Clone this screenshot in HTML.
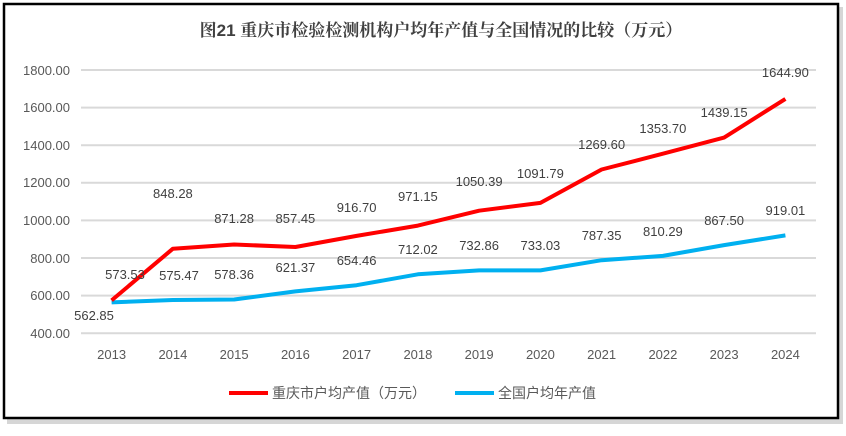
<!DOCTYPE html>
<html><head><meta charset="utf-8"><style>
body{margin:0;background:#fff;}
</style></head><body>
<svg width="846" height="431" xmlns="http://www.w3.org/2000/svg" font-family="Liberation Sans, Noto Sans CJK SC, sans-serif">
<rect x="7" y="7" width="836" height="417" fill="#bbb" opacity="0.6"/>
<rect x="4" y="4" width="834" height="414" fill="#fff" stroke="#000" stroke-width="2.5"/>
<text x="441" y="36" text-anchor="middle" font-size="17" font-weight="bold" fill="#404040" font-family="Liberation Sans, Noto Serif CJK SC, serif">图21  重庆市检验检测机构户均年产值与全国情况的比较（万元）</text>
<g stroke="#d9d9d9" stroke-width="2">
<line x1="81" x2="816" y1="70" y2="70"/><line x1="81" x2="816" y1="107.6" y2="107.6"/>
<line x1="81" x2="816" y1="145.2" y2="145.2"/><line x1="81" x2="816" y1="182.8" y2="182.8"/>
<line x1="81" x2="816" y1="220.4" y2="220.4"/><line x1="81" x2="816" y1="258" y2="258"/>
<line x1="81" x2="816" y1="295.6" y2="295.6"/><line x1="81" x2="816" y1="333.2" y2="333.2"/>
</g>
<g font-size="13" fill="#595959" text-anchor="end">
<text x="70" y="75">1800.00</text><text x="70" y="112">1600.00</text><text x="70" y="150">1400.00</text>
<text x="70" y="187">1200.00</text><text x="70" y="225">1000.00</text><text x="70" y="263">800.00</text>
<text x="70" y="300">600.00</text><text x="70" y="338">400.00</text>
</g>
<g font-size="13" fill="#595959" text-anchor="middle">
<text x="111.6" y="359">2013</text><text x="172.9" y="359">2014</text><text x="234.1" y="359">2015</text>
<text x="295.4" y="359">2016</text><text x="356.6" y="359">2017</text><text x="417.9" y="359">2018</text>
<text x="479.1" y="359">2019</text><text x="540.4" y="359">2020</text><text x="601.6" y="359">2021</text>
<text x="662.9" y="359">2022</text><text x="724.1" y="359">2023</text><text x="785.4" y="359">2024</text>
</g>
<polyline fill="none" stroke="#00b0f0" stroke-width="4" stroke-linejoin="round" points="111.6,302.4 172.9,300 234.1,299.5 295.4,291.4 356.6,285.2 417.9,274.3 479.1,270.4 540.4,270.4 601.6,260.2 662.9,255.9 724.1,245.1 785.4,235.4"/>
<polyline fill="none" stroke="#ff0000" stroke-width="4" stroke-linejoin="round" points="111.6,300.4 172.9,248.7 234.1,244.5 295.4,247 356.6,235.9 417.9,225.6 479.1,210.7 540.4,202.9 601.6,169.5 662.9,153.7 724.1,137.6 785.4,98.9"/>
<g font-size="13" fill="#404040" text-anchor="middle">
<text x="125" y="279">573.53</text><text x="94" y="320">562.85</text>
<text x="172.9" y="198">848.28</text><text x="234.1" y="223">871.28</text><text x="295.4" y="223">857.45</text>
<text x="356.6" y="212">916.70</text><text x="417.9" y="201">971.15</text><text x="479.1" y="186">1050.39</text>
<text x="540.4" y="178">1091.79</text><text x="601.6" y="149">1269.60</text><text x="662.9" y="133">1353.70</text>
<text x="724.1" y="117">1439.15</text><text x="785.4" y="77">1644.90</text>
<text x="179" y="280">575.47</text><text x="234.1" y="279">578.36</text><text x="295.4" y="272">621.37</text>
<text x="356.6" y="265">654.46</text><text x="417.9" y="254">712.02</text><text x="479.1" y="250">732.86</text>
<text x="540.4" y="250">733.03</text><text x="601.6" y="240">787.35</text><text x="662.9" y="236">810.29</text>
<text x="724.1" y="225">867.50</text><text x="785.4" y="215">919.01</text>
</g>
<line x1="229" x2="268" y1="393" y2="393" stroke="#ff0000" stroke-width="4"/>
<text x="272" y="398" font-size="14" fill="#595959">重庆市户均产值（万元）</text>
<line x1="455" x2="494" y1="393" y2="393" stroke="#00b0f0" stroke-width="4"/>
<text x="498" y="398" font-size="14" fill="#595959">全国户均年产值</text>
</svg>
</body></html>
